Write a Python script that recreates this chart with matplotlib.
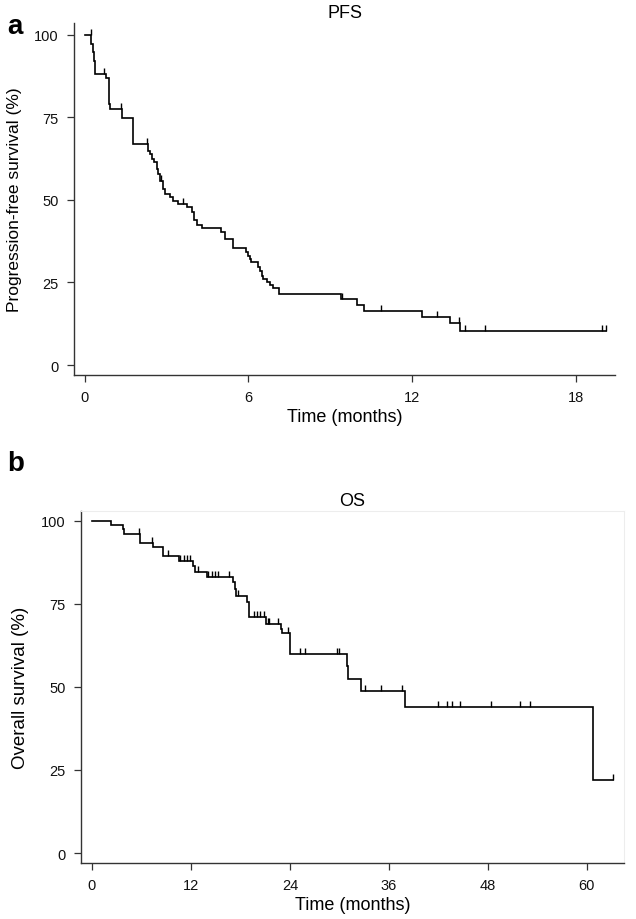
import numpy as np
import matplotlib
matplotlib.use("Agg")
import matplotlib.pyplot as plt
from matplotlib.path import Path

plt.rcParams['font.family'] = ['Liberation Sans', 'DejaVu Sans']

# ---------------- data ----------------
# PFS Kaplan-Meier steps (time in months, survival % after the step)
pfs_times = [0, 0.25, 0.30, 0.35, 0.40, 0.80, 0.91, 0.95, 1.38, 1.79, 2.34, 2.40, 2.48,
             2.56, 2.64, 2.70, 2.77, 2.89, 2.95, 3.13, 3.25, 3.44, 3.74, 3.93, 4.01,
             4.13, 4.30, 5.00, 5.15, 5.45, 5.90, 6.00, 6.05, 6.09, 6.35, 6.43, 6.50,
             6.55, 6.70, 6.80, 6.92, 7.14, 9.38, 9.97, 10.24, 12.35, 13.39, 13.75]
pfs_surv = [100, 97.3, 94.8, 92.2, 88.2, 86.9, 79.0, 77.6, 74.8, 66.8, 64.9, 63.9, 62.4,
            61.4, 59.4, 57.9, 55.8, 53.3, 51.8, 50.8, 49.8, 48.8, 47.8, 46.3, 44.0,
            42.5, 41.4, 40.2, 38.2, 35.4, 34.1, 33.1, 32.1, 31.1, 29.6, 28.6, 27.1,
            26.1, 25.1, 24.1, 23.2, 21.5, 20.0, 18.3, 16.5, 14.6, 12.7, 10.2]
pfs_end = 19.1
pfs_censor = [0.23, 0.72, 1.34, 2.28, 2.80, 3.62, 9.42, 10.85, 12.92, 13.73, 13.94,
              14.67, 18.96, 19.1]

# OS Kaplan-Meier steps
os_times = [0, 2.27, 3.72, 3.90, 5.80, 7.40, 8.60, 10.50, 12.20, 12.50, 14.00, 17.10,
            17.30, 17.50, 18.75, 19.00, 21.10, 22.90, 23.00, 24.00, 30.90, 31.10, 32.60,
            38.00, 60.80]
os_surv = [100, 98.8, 97.6, 96.1, 93.4, 92.1, 89.4, 88.0, 86.3, 84.7, 83.2, 81.5,
           79.5, 77.3, 75.5, 71.2, 69.0, 67.5, 66.2, 60.0, 56.4, 52.4, 48.9,
           43.9, 22.0]
os_end = 63.2
os_censor = [5.74, 7.30, 9.25, 10.7, 11.1, 11.5, 11.9, 12.8, 14.05, 14.5, 14.9, 15.3,
             16.6, 17.7, 19.6, 20.0, 20.4, 20.9, 21.3, 21.5, 22.5, 23.8, 25.2, 25.8,
             29.7, 29.9, 33.1, 35.0, 37.6, 41.9, 43.0, 43.7, 44.6, 48.4, 51.9, 53.1,
             63.2]

pfs_xticks = [0, 6, 12, 18]
os_xticks = [0, 12, 24, 36, 48, 60]
yticks = [0, 25, 50, 75, 100]

# ---------------- drawing ----------------
fig = plt.figure(figsize=(6.36, 9.2), dpi=100)

tick_marker = Path([(0, 0), (0, 1)], [Path.MOVETO, Path.LINETO])
spine_col = '#333333'


def km(ax, times, surv, end, censor):
    t = np.array(times + [end])
    s = np.array(surv + [surv[-1]])
    ax.step(t, s, where='post', color='black', lw=1.2, solid_joinstyle='miter')
    idx = np.searchsorted(np.array(times), np.array(censor), side='right') - 1
    cs = np.array(surv)[idx]
    ax.plot(censor, cs, linestyle='none', marker=tick_marker, markersize=9,
            markeredgewidth=1.0, markeredgecolor='black')


def style(ax, xticks, xlim, ylim, ylabel, title, ylabsize, frame=False):
    ax.set_xlim(*xlim)
    ax.set_ylim(*ylim)
    ax.set_xticks(xticks)
    ax.set_yticks(yticks)
    for s in ['top', 'right']:
        if frame:
            ax.spines[s].set_color('#ededed')
            ax.spines[s].set_linewidth(0.8)
        else:
            ax.spines[s].set_visible(False)
    for s in ['left', 'bottom']:
        ax.spines[s].set_color(spine_col)
        ax.spines[s].set_linewidth(1.0)
    ax.tick_params(axis='both', direction='out', length=5, width=0.9,
                   color=spine_col, labelsize=10.5, labelcolor='#111111', pad=6)
    ax.set_xlabel('Time (months)', fontsize=13, labelpad=3)
    ax.set_ylabel(ylabel, fontsize=ylabsize, labelpad=9)
    ax.set_title(title, fontsize=13, pad=4)


ax1 = fig.add_axes([0.1164, 0.5913, 0.8506, 0.3826])
km(ax1, pfs_times, pfs_surv, pfs_end, pfs_censor)
style(ax1, pfs_xticks, (-0.385, 19.43), (-3.03, 103.6),
      'Progression-free survival (%)', 'PFS', 12.5)

ax2 = fig.add_axes([0.1274, 0.0609, 0.8536, 0.3826])
km(ax2, os_times, os_surv, os_end, os_censor)
style(ax2, os_xticks, (-1.33, 64.5), (-3.0, 103.0),
      'Overall survival (%)', 'OS', 13.5, frame=True)

fig.text(0.012, 0.985, 'a', fontsize=20, fontweight='bold', va='top', ha='left')
fig.text(0.012, 0.51, 'b', fontsize=20, fontweight='bold', va='top', ha='left')

fig.savefig('out.png', dpi=100)
